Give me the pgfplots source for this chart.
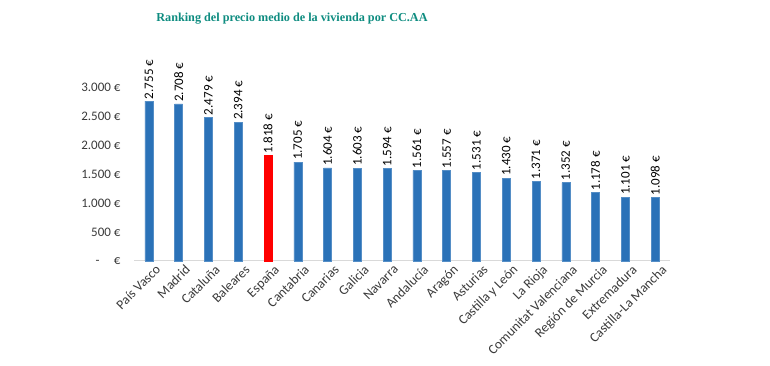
\documentclass[border=0pt]{standalone}
\usepackage{pgfplots}
\pgfplotsset{compat=1.18}
\usepackage{fontspec}
\setmainfont{Carlito}
\newfontfamily\titlefont{Liberation Serif}
\definecolor{barblue}{HTML}{2B72B8}
\definecolor{titleteal}{HTML}{0E8C80}
\definecolor{txtgray}{HTML}{3A3A3A}
\begin{document}
\begin{tikzpicture}
\useasboundingbox (0pt,0pt) rectangle (770pt,366pt);
\node[font=\titlefont\bfseries\fontsize{12.2}{14}\selectfont, text=titleteal] at (292pt,347pt) {Ranking del precio medio de la vivienda por CC.AA};
\begin{axis}[
  at={(134pt,105pt)}, anchor=south west,
  scale only axis, width=536pt, height=203pt,
  xmin=-0.5, xmax=17.5, ymin=0, ymax=3500,
  ybar, bar width=8pt,
  axis x line*=bottom, axis y line*=left,
  x axis line style={draw=black!15, line width=1pt, -},
  y axis line style={draw=none},
  xtick={0,...,17}, major tick length=0pt,
  xticklabels={País Vasco,Madrid,Cataluña,Baleares,España,Cantabria,Canarias,Galicia,Navarra,Andalucía,Aragón,Asturias,Castilla y León,La Rioja,Comunitat Valenciana,Región de Murcia,Extremadura,Castilla-La Mancha},
  xticklabel style={rotate=45, anchor=north east, font=\fontsize{13.5}{15}\selectfont, text=txtgray, inner sep=1pt, xshift=3pt, yshift=-5pt},
  ytick={0,500,1000,1500,2000,2500,3000},
  yticklabels={-\hspace{1.1em}€,500 €,1.000 €,1.500 €,2.000 €,2.500 €,3.000 €},
  yticklabel style={font=\fontsize{13}{14}\selectfont, text=txtgray, anchor=east, xshift=-10pt},
  point meta=explicit symbolic,
  nodes near coords,
  every node near coord/.append style={rotate=90, anchor=west, font=\fontsize{13}{14}\selectfont, text=black, inner sep=2pt},
  clip=false,
]
\addplot[fill=barblue, draw=barblue!80!white, bar shift=0pt] coordinates {
(0,2755) [2.755 €]
(1,2708) [2.708 €]
(2,2479) [2.479 €]
(3,2394) [2.394 €]
(5,1705) [1.705 €]
(6,1604) [1.604 €]
(7,1603) [1.603 €]
(8,1594) [1.594 €]
(9,1561) [1.561 €]
(10,1557) [1.557 €]
(11,1531) [1.531 €]
(12,1430) [1.430 €]
(13,1371) [1.371 €]
(14,1352) [1.352 €]
(15,1178) [1.178 €]
(16,1101) [1.101 €]
(17,1098) [1.098 €]
};
\addplot[fill=red, draw=red, bar shift=0pt] coordinates {
(4,1818) [1.818 €]
};
\end{axis}
\end{tikzpicture}
\end{document}
